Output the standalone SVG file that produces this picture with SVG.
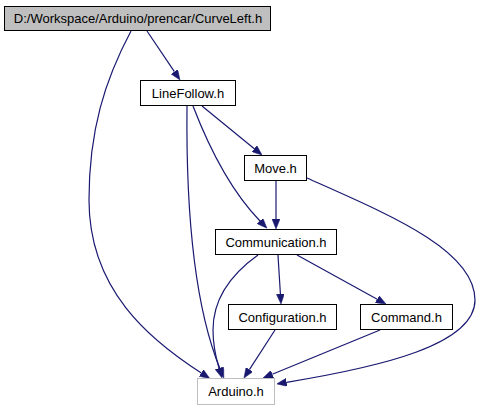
<svg xmlns="http://www.w3.org/2000/svg" width="481" height="411" viewBox="0 0 481 411">
<style>
.node rect{fill:#ffffff;stroke:#000000;stroke-width:1}
.node text{font-family:"Liberation Sans",Arial,sans-serif;font-size:13px;fill:#000000;text-anchor:middle}
.edges path{fill:none;stroke:#191970;stroke-width:1.2;marker-end:url(#arr)}
</style>
<defs>
<marker id="arr" viewBox="0 0 10 8" refX="0" refY="4" markerWidth="10" markerHeight="8" markerUnits="userSpaceOnUse" orient="auto">
<path d="M0,0 L10,4 L0,8 z" fill="#191970" stroke="#191970" stroke-width="0.5"/>
</marker>
</defs>
<rect width="481" height="411" fill="#ffffff"/>
<g class="edges" id="edges">
<path d="M147,31 L174.4,71.7"/>
<path d="M131,31 C105,80 89,130 89,200 C89,290 150,340 201.3,373"/>
<path d="M187,106 C186,200 192,300 220,368.8"/>
<path d="M258,255 C230,275 213,300 213,330 C213,345 216,358 219,368.2"/>
<path d="M202,106 L254.3,148.7"/>
<path d="M193,106 C208,145 230,190 260,221"/>
<path d="M276,181 L276,219"/>
<path d="M307,178 C390,215 475,250 475,300 C475,345 380,367 286.6,382.3"/>
<path d="M278,255 L280.4,294"/>
<path d="M297,255 L377.2,299.2"/>
<path d="M275,330 L249.4,369.6"/>
<path d="M380,330 L272.3,374.2"/>
</g>
<g class="node" id="node-curveleft">
<rect x="4.5" y="6.5" width="266" height="24" style="fill:#bfbfbf"/>
<text x="138" y="23">D:/Workspace/Arduino/prencar/CurveLeft.h</text>
</g>
<g class="node" id="node-linefollow">
<rect x="140.5" y="80.5" width="95" height="25"/>
<text x="188" y="98">LineFollow.h</text>
</g>
<g class="node" id="node-move">
<rect x="244.5" y="155.5" width="62" height="25"/>
<text x="275.5" y="173">Move.h</text>
</g>
<g class="node" id="node-communication">
<rect x="215.5" y="229.5" width="121" height="25"/>
<text x="276" y="247">Communication.h</text>
</g>
<g class="node" id="node-configuration">
<rect x="228.5" y="304.5" width="108" height="25"/>
<text x="282.5" y="322">Configuration.h</text>
</g>
<g class="node" id="node-command">
<rect x="360.5" y="304.5" width="92" height="25"/>
<text x="406.5" y="322">Command.h</text>
</g>
<g class="node" id="node-arduino">
<rect x="197.5" y="378.5" width="77" height="26" style="stroke:#bfbfbf"/>
<text x="236" y="396">Arduino.h</text>
</g>
</svg>
